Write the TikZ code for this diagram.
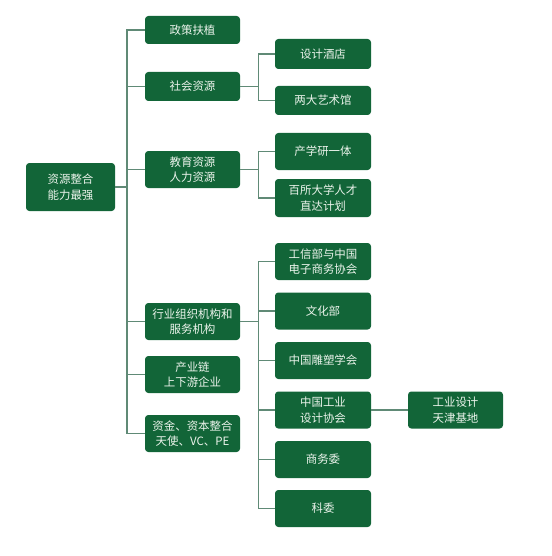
\documentclass[tikz,border=0pt]{standalone}
\usepackage{fontspec}
\newfontfamily\cjk{Noto Sans CJK SC}
\begin{document}
\begin{tikzpicture}[x=0.75pt,y=-0.75pt]
\definecolor{boxg}{RGB}{18,101,56}
\definecolor{lineg}{RGB}{96,138,118}
\definecolor{textg}{RGB}{236,244,236}
\tikzset{
  blk/.style={fill=boxg, rounded corners=2.5pt, text=textg, align=center, inner sep=0pt,
    font=\cjk\fontsize{8.6}{11.6}\selectfont},
  lvone/.style={blk, minimum width=71.25pt, minimum height=27.75pt},
  lvtwo/.style={blk, minimum width=72pt, minimum height=27.75pt},
  link/.style={draw=lineg, line width=0.8pt}
}
\useasboundingbox (0,0) rectangle (552,556);
% root
\node[blk, minimum width=66.75pt, minimum height=36pt] (root) at (70.5,187) {资源整合\\能力最强};
% first level
\node[lvone, minimum height=21pt] (zc) at (192.5,30) {政策扶植};
\node[lvone, minimum height=21.75pt] (sh) at (192.5,86.5) {社会资源};
\node[lvone] (jy) at (192.5,169.5) {教育资源\\人力资源};
\node[lvone] (hy) at (192.5,321.5) {行业组织机构和\\服务机构};
\node[lvone] (cy) at (192.5,374.5) {产业链\\上下游企业};
\node[lvone] (zj) at (192.5,433.5) {资金、资本整合\\天使、VC、PE};
% second level
\node[lvtwo, minimum height=22.5pt] (jd) at (323,54) {设计酒店};
\node[lvtwo, minimum height=21.75pt] (ys) at (323,100.5) {两大艺术馆};
\node[lvtwo] (cx) at (323,151.5) {产学研一体};
\node[lvtwo, minimum height=28.5pt] (bs) at (323,198) {百所大学人才\\直达计划};
\node[lvtwo] (gx) at (323,261.5) {工信部与中国\\电子商务协会};
\node[lvtwo] (wh) at (323,311) {文化部};
\node[lvtwo] (ds) at (323,360.5) {中国雕塑学会};
\node[lvtwo] (gy) at (323,410) {中国工业\\设计协会};
\node[lvtwo] (sw) at (323,459.5) {商务委};
\node[lvtwo] (kw) at (323,508.5) {科委};
% third level
\node[lvone] (tj) at (455.5,410) {工业设计\\天津基地};
% connectors
\coordinate (t0) at (127,187);
\draw[link] (root.east) -- (t0);
\foreach \n in {zc,sh,jy,hy,cy,zj}
  \draw[link] (t0) |- (\n.west);
\draw[link] (sh.east) -- ++(18,0) coordinate (t1);
\foreach \n in {jd,ys}
  \draw[link] (t1) |- (\n.west);
\draw[link] (jy.east) -- ++(18,0) coordinate (t2);
\foreach \n in {cx,bs}
  \draw[link] (t2) |- (\n.west);
\draw[link] (hy.east) -- ++(18,0) coordinate (t3);
\foreach \n in {gx,wh,ds,gy,sw,kw}
  \draw[link] (t3) |- (\n.west);
\draw[link] (gy.east) -- (tj.west);
\end{tikzpicture}
\end{document}
